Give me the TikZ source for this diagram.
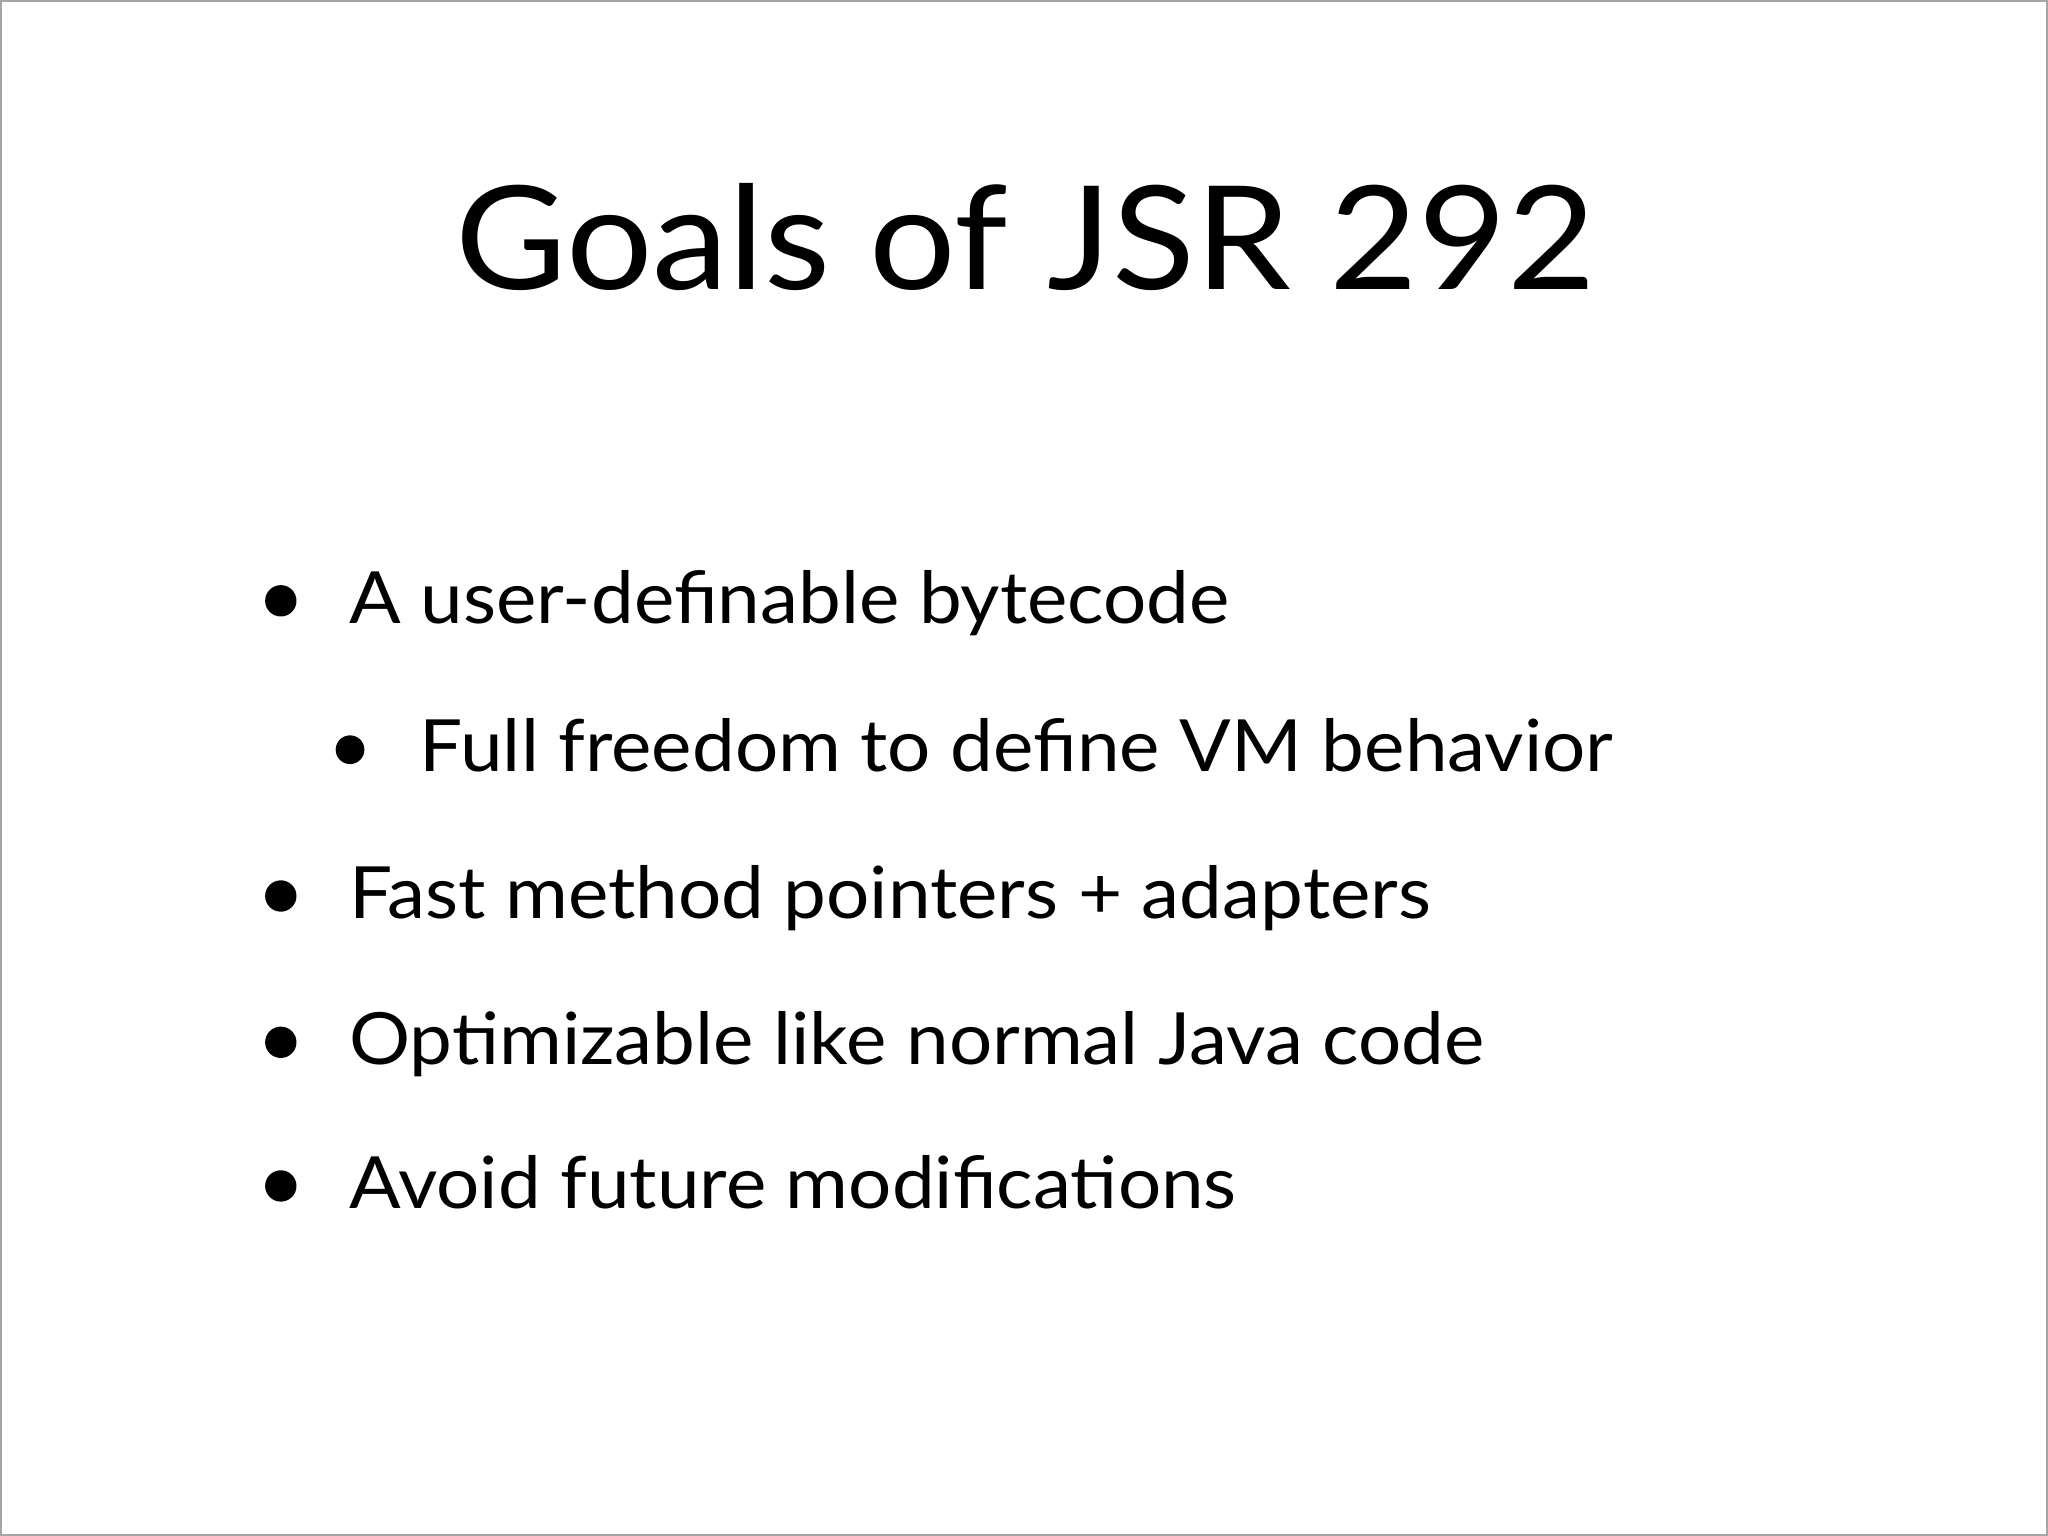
\documentclass[tikz,border=0pt]{standalone}
\usepackage{fontspec}
\setmainfont{Lato}[FakeStretch=1.06]
\begin{document}
\begin{tikzpicture}[x=0.01306cm,y=-0.01306cm,
  item/.style={anchor=base west,inner sep=0,font=\fontsize{20.5}{24}\selectfont},
  dot/.style={fill=black,draw=none}]
\useasboundingbox (0,0) rectangle (1568,1176);
\draw[gray!70,line width=0.8pt] (0.5,0.5) rectangle (1567.5,1175.5);
\node[anchor=base,inner sep=0,font=\fontsize{41}{48}\selectfont] (title) at (785,222) {Goals of JSR 292};
\fill[dot] (215,460) circle (12);
\node[item] (i1) at (267,477) {A user-definable bytecode};
\fill[dot] (268,574) circle (11);
\node[item] (i2) at (321,591) {Full freedom to define VM behavior};
\fill[dot] (215,686) circle (12);
\node[item] (i3) at (267,703) {Fast method pointers + adapters};
\fill[dot] (215,798) circle (12);
\node[item] (i4) at (267,815) {Optimizable like normal Java code};
\fill[dot] (215,908) circle (12);
\node[item] (i5) at (267,925) {Avoid future modifications};
\end{tikzpicture}
\end{document}
